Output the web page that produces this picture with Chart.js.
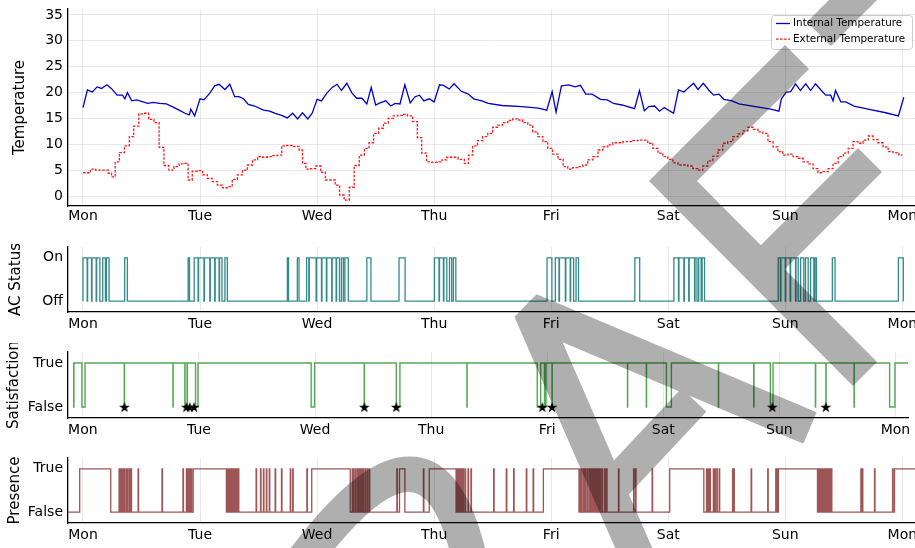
<!DOCTYPE html>
<html>
<head>
<meta charset="utf-8">
<script src="https://cdn.jsdelivr.net/npm/chart.js@4.4.0/dist/chart.umd.min.js"></script>
<style>
  html, body { margin: 0; padding: 0; background: #fff; overflow: hidden; width: 915px; height: 548px; }
  #wrap { position: relative; width: 915px; height: 548px; }
  canvas.panel { position: absolute; left: 0; }
  #mark { position: absolute; left: 0; top: 0; opacity: 0.31; pointer-events: none; }
</style>
</head>
<body>
<div id="wrap">
  <canvas id="cTemp" class="panel" width="915" height="230" style="top:0px"></canvas>
  <canvas id="cAC" class="panel" width="915" height="98" style="top:238px"></canvas>
  <canvas id="cSat" class="panel" width="915" height="99" style="top:343px"></canvas>
  <canvas id="cPres" class="panel" width="915" height="98" style="top:449px"></canvas>
  <canvas id="mark" width="915" height="548"></canvas>
</div>
<script>
// ---- time axis (hours since Monday 00:00) ----
const dayTicks = [0, 24, 48, 72, 96, 120, 144, 168];
const dayLabels = ['Mon', 'Tue', 'Wed', 'Thu', 'Fri', 'Sat', 'Sun', 'Mon'];

// ---- temperature panel ----
const tempTicks = [0, 5, 10, 15, 20, 25, 30, 35];

const intHours = [0,0.9,1.9,2.9,3.8,4.9,5.8,7.0,8.1,8.6, 9.1,10.0,11.0,12.3,13.3,14.4,15.7,17.1,18.5,19.9,
  20.9,21.8,22.1,22.9,24.0,24.8,26.0,27.0,27.9,29.1, 30.1,31.1,32.0,32.9,33.9,35.2,37.0,38.3,39.4,40.7,
  41.9,43.0,44.0,45.0,46.1,47.0,48.0,48.9,50.0,51.1, 52.1,53.0,54.1,55.1,56.1,57.2,58.2,59.1,60.0,60.9,
  62.1,63.1,64.0,65.0,66.0,67.1,68.1,69.0,69.9,71.0, 72.0,73.1,73.9,75.1,76.1,77.5,79.0,80.1,81.8,83.1,
  85.9,90.0,93.4,95.1,96.2,97.0,98.1,99.6,100.9,102.0, 103.1,104.4,106.1,107.5,108.8,110.5,113.1,114.1,115.1,116.0,
  117.2,118.2,119.2,121.1,122.1,123.2,124.2,125.2,126.1,127.2, 128.3,129.3,130.4,131.4,133.1,134.5,137.9,141.0,142.7,143.2,
  144.2,145.1,146.1,147.1,148.2,149.2,150.2,151.3,152.3,153.3, 153.8,154.3,155.4,156.4,158.1,160.5,164.6,167.2,168.3];
const intTemp = [17.1,20.5,20.1,21.1,20.8,21.5,20.8,19.5,19.5,18.8, 20.0,18.4,18.6,18.2,17.9,18.1,17.9,17.8,17.2,16.5,
  16.0,15.7,16.8,15.5,18.8,18.6,19.9,21.3,21.6,20.6, 21.6,19.2,19.2,18.8,17.7,17.4,16.6,16.4,16.0,15.6,
  15.1,16.0,14.9,16.1,14.9,16.0,18.7,18.4,19.9,21.0, 21.6,20.4,21.8,20.0,18.9,18.9,17.8,21.0,17.6,18.0,
  18.4,17.4,17.9,17.8,21.5,18.0,19.2,19.5,18.4,18.8, 18.2,21.5,21.4,20.7,21.7,20.3,19.7,18.8,18.4,17.9,
  17.5,17.3,17.0,16.6,20.2,16.2,21.3,21.5,21.1,21.4, 19.7,19.7,18.7,18.6,17.9,17.6,16.9,20.4,16.5,17.3,
  17.4,16.4,17.1,16.0,20.5,20.1,21.0,21.8,20.6,21.8, 20.5,19.5,19.7,18.7,18.4,17.8,17.3,16.8,16.4,18.8,
  20.1,20.2,21.7,20.4,21.7,20.4,21.7,20.5,19.5,19.5, 18.4,20.4,18.2,18.2,17.4,16.9,16.1,15.5,19.1];

const extHours = [0.0,1.0,2.05,3.1,4.1,4.9,5.5,6.2,7.0,7.9, 9.1,9.9,10.9,12.0,12.9,14.0,15.1,16.1,17.1,18.1,
  19.2,20.2,21.2,21.9,22.9,24.0,25.0,26.0,27.0,28.1, 29.1,30.1,31.1,32.2,33.2,34.2,35.3,36.3,37.3,38.3,
  39.4,40.4,41.1,42.4,43.8,44.8,45.2,46.2,47.2,48.3, 49.2,50.2,51.2,52.2,53.0,54.1,55.1,56.1,57.2,58.2,
  59.1,60.1,61.1,62.1,63.1,64.1,65.0,66.0,67.1,68.1, 69.0,69.9,71.0,72.0,73.1,74.1,75.1,76.1,77.7,78.7,
  79.4,80.4,81.4,82.5,83.5,84.5,85.5,86.6,87.6,88.6, 89.6,90.7,91.7,92.7,93.8,94.8,95.8,96.8,98.0,98.9,
  99.9,100.9,102.0,103.0,104.0,105.1,106.1,107.1,108.1,109.2, 110.2,111.2,112.2,113.3,114.3,115.3,116.3,117.4,118.4,119.4,
  120.4,121.5,122.5,123.5,124.5,125.6,126.6,127.6,128.6,129.7, 130.7,131.7,132.7,133.8,134.8,135.8,136.9,137.9,138.9,139.9,
  141.0,142.0,143.0,144.0,145.1,146.1,147.1,148.2,149.2,150.2, 151.2,152.3,153.3,154.3,155.4,156.4,157.4,158.4,159.4,160.5,
  161.5,162.5,163.5,164.6,165.6,166.6,168.0];
const extTemp = [4.5,4.5,5.2,5.0,5.0,5.0,4.4,3.7,6.6,8.4, 9.7,11.5,13.5,15.9,16.0,14.8,14.2,9.4,5.9,5.0,
  5.7,6.2,6.3,3.1,4.8,4.9,4.1,3.4,2.8,2.1, 1.6,1.8,3.2,4.1,5.0,6.0,7.0,7.6,7.5,7.6,
  7.8,7.9,9.7,9.8,9.6,8.9,6.3,5.2,5.3,5.8, 4.6,3.1,3.1,2.1,0.2,-0.8,1.7,5.9,7.9,9.2,
  10.3,12.1,13.1,14.1,15.0,15.5,15.6,15.8,15.5,14.4, 11.3,8.3,6.6,6.5,6.6,7.0,7.5,7.5,7.1,6.3,
  7.9,9.7,10.7,11.5,12.1,13.3,13.7,14.2,14.6,14.9, 14.7,14.2,13.7,12.4,11.5,10.5,9.2,8.1,7.1,5.7,
  5.2,5.5,5.7,6.0,7.0,7.6,8.9,9.5,9.9,10.3, 10.3,10.5,10.5,10.7,10.8,10.8,10.2,9.2,8.3,7.6,
  7.1,6.4,6.0,6.0,5.8,5.3,5.0,5.8,6.8,7.7, 8.9,10.2,10.5,11.5,12.0,12.6,13.3,12.9,12.4,12.1,
  10.5,9.5,8.6,7.9,8.1,7.6,7.3,6.6,6.2,5.3, 4.5,4.7,5.3,6.3,7.6,8.3,9.2,10.5,10.2,10.8,
  11.6,10.9,10.3,9.5,8.6,8.4,7.9];

// ---- AC status: periods when the unit is on [start, end] ----
const acOn = [[0.0,0.85],[0.95,1.75],[1.85,2.7],[2.8,3.45],[4.05,4.6],[4.8,5.35],[8.55,9.1],
  [21.56,21.84],[22.8,23.6],[23.7,24.8],[24.9,26.0],[26.1,27.0],[27.1,27.9],[28.0,28.5],[29.1,29.6],
  [41.9,42.15],[43.95,44.3],[45.85,46.3],[46.4,47.8],[47.9,48.9],[49.0,49.9],[50.0,51.0],[51.1,51.9],
  [52.0,52.6],[53.0,53.4],[53.7,54.4],[58.2,59.05],[64.8,66.05],
  [72.05,73.0],[73.1,73.9],[74.0,74.6],[75.15,75.6],[75.95,76.45],
  [95.15,96.15],[96.85,97.6],[97.7,98.9],[99.0,99.9],[100.0,100.6],[101.1,101.6],[113.15,114.15],
  [121.15,122.1],[122.2,123.2],[123.3,124.2],[124.3,125.4],[125.5,125.9],[126.25,126.75],[126.95,127.45],
  [142.55,143.0],[143.1,144.0],[144.1,145.0],[145.1,146.1],[146.2,146.65],[147.15,147.8],[148.15,148.7],
  [149.2,149.85],[150.1,150.4],[153.65,154.2],[167.2,168.2]];
const acStart = 0, acEnd = 168.22;

// ---- satisfaction: periods reported unsatisfied, plus complaint markers ----
const satFalse = [[-1.9,-1.85],[-0.2,0.45],[8.56,8.6],[18.62,18.66],[21.08,21.12],[21.55,21.6],[23.3,23.8],
  [47.2,47.9],[58.17,58.21],[64.8,65.55],[79.4,79.44],[93.95,94.65],[95.45,95.75],[97.0,97.04],
  [112.6,112.64],[116.5,116.54],[120.65,121.68],[131.4,131.44],[138.7,138.76],[142.15,142.7],
  [151.45,151.5],[153.62,153.66],[159.45,159.49],[166.8,167.9]];
const satStars = [8.6, 21.4, 22.1, 23.0, 58.2, 64.8, 95.0, 97.0, 142.55, 153.6];
const satStart = -2.05, satEnd = 171.5;

// ---- presence: periods someone is in the room ----
const presenceOn = [[-0.68,5.69],
  [7.40,7.50],[7.65,7.75],[7.95,8.05],[8.20,8.30],[8.45,8.55],[8.85,8.95],[9.15,9.25],[9.55,9.65],[9.85,9.95],
  [11.30,11.40],[16.20,16.30],[20.50,20.60],[21.20,21.30],[21.55,21.65],[21.90,22.00],[22.20,22.30],
  [22.60,29.40],
  [29.65,29.75],[29.95,30.05],[30.20,30.30],[30.45,30.55],[30.75,30.85],[31.00,31.10],[31.25,31.35],[31.55,31.65],[31.85,31.95],
  [35.50,35.60],[36.40,36.50],[37.00,37.10],[37.60,37.70],[38.20,38.30],[39.40,39.50],[40.70,40.80],[42.50,42.60],[43.00,43.10],[45.90,46.00],
  [46.90,54.80],
  [55.20,55.30],[55.50,55.60],[55.90,56.00],[56.30,56.40],[56.60,56.70],[56.90,57.00],[57.20,57.30],[57.50,57.60],[57.90,58.00],[58.30,58.40],[58.70,58.80],
  [64.35,64.45],[64.90,66.00],
  [69.80,69.90],
  [71.00,76.50],
  [76.75,76.85],[77.05,77.15],[77.35,77.45],[77.65,77.75],[77.95,78.05],[78.35,78.45],[78.95,79.05],[79.55,79.65],
  [84.20,84.30],[86.80,86.90],[88.30,88.40],[90.90,91.00],[92.30,92.40],
  [94.40,101.70],
  [101.90,102.00],[102.25,102.35],[102.65,102.75],[102.95,103.05],[103.35,103.45],[103.75,103.85],[104.05,104.15],[104.35,104.45],
  [104.60,104.70],[104.85,104.95],[105.15,105.25],[105.45,105.55],[105.75,105.85],[106.05,106.15],[106.45,106.55],[106.95,107.05],[107.35,107.45],
  [109.80,109.90],[112.90,113.00],[113.30,113.40],[116.70,116.80],
  [120.30,127.30],
  [127.85,127.95],[128.05,128.15],[128.35,128.45],[128.55,128.65],[129.25,129.35],[129.55,129.65],[129.95,130.05],[130.45,130.55],
  [133.20,133.30],[133.45,133.55],[137.00,137.10],[140.40,140.50],[142.05,142.15],[142.35,142.45],
  [142.60,150.60],
  [150.85,150.95],[151.05,151.15],[151.25,151.35],[151.45,151.55],[151.65,151.75],[151.85,151.95],[152.05,152.15],
  [152.25,152.35],[152.45,152.55],[152.65,152.75],[152.95,153.05],[153.25,153.35],[153.45,153.55],
  [159.50,159.60],[159.80,159.90],[162.30,162.40],
  [166.00,166.10],[166.40,171.50]];
const presStart = -3.08, presEnd = 171.5;

// ---- shared styling ----
const FONT = "'DejaVu Sans', sans-serif";
Chart.defaults.font.family = FONT;
Chart.defaults.color = '#000';
const GRID = 'rgba(0,0,0,0.09)';
const X_MIN = -3.075, X_MAX = 170.6;

// Turns on/off periods into a stepped 0/1 series
function stepSeries(intervals, start, end, outside) {
  const inside = 1 - outside;
  const pts = [{x: start, y: outside}];
  intervals.forEach(([s, e]) => { pts.push({x: s, y: inside}); pts.push({x: e, y: outside}); });
  pts.push({x: end, y: pts[pts.length - 1].y});
  return pts;
}

function xAxis(labelPad) {
  return {
    type: 'linear', min: X_MIN, max: X_MAX,
    afterBuildTicks: s => { s.ticks = dayTicks.map(v => ({value: v})); },
    afterFit: s => { s.height = 24; s.paddingLeft = 0; s.paddingRight = 0; },
    ticks: { autoSkip: false, maxRotation: 0, minRotation: 0, padding: labelPad, font: {size: 14}, color: '#000',
             callback: (v, i) => dayLabels[i] },
    grid: { color: GRID, lineWidth: 1, drawTicks: false },
    border: { color: '#000', width: 1.3 }
  };
}

function yAxis(title, titlePad, min, max, tickVals, tickText, showGrid) {
  return {
    type: 'linear', min, max,
    afterBuildTicks: s => { s.ticks = tickVals.map(v => ({value: v})); },
    afterFit: s => { s.width = 68; s.paddingTop = 0; s.paddingBottom = 0; },
    ticks: { autoSkip: false, padding: 5, font: {size: 14}, color: '#000', callback: (v, i) => tickText[i] },
    grid: { display: showGrid, color: GRID, lineWidth: 1, drawTicks: false },
    border: { color: '#000', width: 1.3 },
    title: { display: true, text: title, font: {size: 15}, color: '#000', padding: {top: titlePad, bottom: 0} }
  };
}

function options(yCfg, labelPad) {
  return {
    responsive: false, animation: false, devicePixelRatio: 1, events: [],
    layout: { padding: { top: 9, left: 0, right: 0, bottom: 0 } },
    plugins: { legend: { display: false }, tooltip: { enabled: false } },
    elements: { point: { radius: 0 }, line: { tension: 0 } },
    scales: { x: xAxis(labelPad), y: yCfg }
  };
}

// Legend box in the upper right of the temperature panel
const tempLegend = {
  id: 'tempLegend',
  afterDraw(chart) {
    const ctx = chart.ctx;
    ctx.save();
    ctx.beginPath();
    ctx.roundRect(771.5, 15.5, 141, 34, 3);
    ctx.fillStyle = 'rgba(255,255,255,0.8)';
    ctx.fill();
    ctx.strokeStyle = '#cccccc';
    ctx.lineWidth = 1;
    ctx.stroke();
    chart.data.datasets.forEach((ds, i) => {
      const cy = 23.5 + i * 15.7;
      ctx.beginPath();
      ctx.setLineDash(ds.borderDash || []);
      ctx.strokeStyle = ds.borderColor;
      ctx.lineWidth = ds.borderWidth;
      ctx.moveTo(776, cy);
      ctx.lineTo(790, cy);
      ctx.stroke();
      ctx.setLineDash([]);
      ctx.fillStyle = '#000';
      ctx.font = "10.4px 'DejaVu Sans'";
      ctx.textBaseline = 'middle';
      ctx.textAlign = 'left';
      ctx.fillText(ds.label, 793, cy);
    });
    ctx.restore();
  }
};

// Temperature
new Chart(document.getElementById('cTemp'), {
  type: 'line',
  data: {
    datasets: [
      { label: 'Internal Temperature', data: intHours.map((h, i) => ({x: h, y: intTemp[i]})),
        borderColor: '#0000cd', borderWidth: 1.3, pointRadius: 0 },
      { label: 'External Temperature', data: extHours.map((h, i) => ({x: h, y: extTemp[i]})),
        stepped: 'middle', borderColor: 'rgba(255,0,0,0.9)', borderWidth: 1.3, borderDash: [2.5, 1.5], pointRadius: 0 }
    ]
  },
  options: options(yAxis('Temperature', 11, -1.93, 36.16, tempTicks, tempTicks.map(String), true), 2),
  plugins: [tempLegend]
});

// AC status
new Chart(document.getElementById('cAC'), {
  type: 'line',
  data: { datasets: [{ data: stepSeries(acOn, acStart, acEnd, 0), stepped: true,
    borderColor: 'rgba(0,110,110,0.8)', borderWidth: 1.3, pointRadius: 0 }] },
  options: options(yAxis('AC Status', 7, -0.25, 1.25, [0, 1], ['Off', 'On'], false), 4)
});

// Star marker for complaints
function starMarker(r) {
  const size = Math.ceil(r * 2 + 2);
  const c = document.createElement('canvas');
  c.width = size; c.height = size;
  const g = c.getContext('2d');
  g.fillStyle = '#000';
  g.beginPath();
  for (let i = 0; i < 10; i++) {
    const rad = i % 2 ? r * 0.4 : r;
    const a = -Math.PI / 2 + i * Math.PI / 5;
    g.lineTo(size / 2 + rad * Math.cos(a), size / 2 + 0.6 + rad * Math.sin(a));
  }
  g.closePath();
  g.fill();
  return c;
}

// Satisfaction
new Chart(document.getElementById('cSat'), {
  type: 'line',
  data: { datasets: [
    { data: satStars.map(h => ({x: h, y: 0})), showLine: false, pointStyle: starMarker(5.6), pointRadius: 6, order: 0 },
    { data: stepSeries(satFalse, satStart, satEnd, 1), stepped: true,
      borderColor: 'rgba(0,128,0,0.68)', borderWidth: 1.4, pointRadius: 0, order: 1 }
  ] },
  options: options(yAxis('Satisfaction', 5.5, -0.25, 1.25, [0, 1], ['False', 'True'], false), 4)
});

// Presence
new Chart(document.getElementById('cPres'), {
  type: 'line',
  data: { datasets: [{ data: stepSeries(presenceOn, presStart, presEnd, 0), stepped: true,
    borderColor: 'rgba(120,20,20,0.72)', borderWidth: 1.3, pointRadius: 0 }] },
  options: options(yAxis('Presence', 6, -0.25, 1.25, [0, 1], ['False', 'True'], false), 4)
});

// Translucent grey stamp drawn across the whole figure
(function drawStamp() {
  const m = document.getElementById('mark').getContext('2d');
  m.strokeStyle = '#000';
  m.lineCap = 'butt';
  function stroke(pts, width, join) {
    m.lineWidth = width;
    m.lineJoin = join;
    m.beginPath();
    m.moveTo(pts[0][0], pts[0][1]);
    for (let i = 1; i < pts.length; i++) m.lineTo(pts[i][0], pts[i][1]);
    m.stroke();
  }
  stroke([[797, 57], [673, 181], [865, 374]], 34, 'miter');
  stroke([[819, 34], [885, -32]], 34, 'miter');
  stroke([[870, 160], [755, 275]], 34, 'miter');
  stroke([[810, 428], [530, 310], [652, 590]], 34, 'bevel');
  stroke([[694, 400], [604, 496]], 34, 'miter');
  m.lineWidth = 35;
  m.beginPath();
  m.moveTo(300, 565);
  m.bezierCurveTo(370, 470, 440, 420, 471, 565);
  m.stroke();
})();
</script>
</body>
</html>
